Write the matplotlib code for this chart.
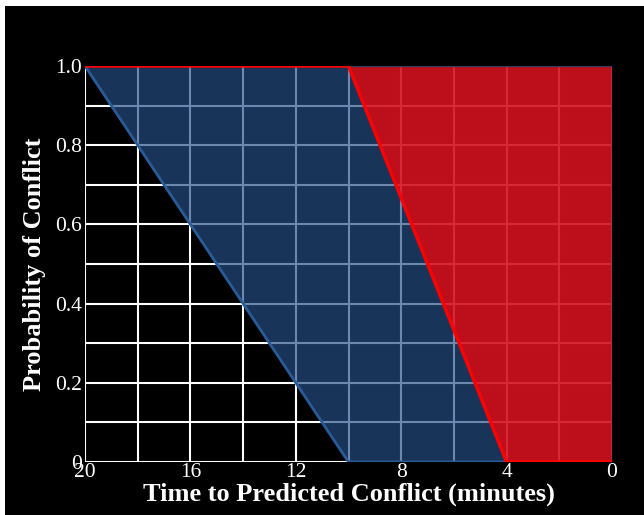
import matplotlib
matplotlib.use("Agg")
import matplotlib.pyplot as plt
from matplotlib.patches import Rectangle

plt.rcParams['font.family'] = ['Liberation Serif', 'DejaVu Serif']

# data
x_ticks = [20, 16, 12, 8, 4, 0]
y_ticks = [0, 0.2, 0.4, 0.6, 0.8, 1.0]
y_tick_labels = ['0', '0.2', '0.4', '0.6', '0.8', '1.0']
x_grid = [20, 18, 16, 14, 12, 10, 8, 6, 4, 2, 0]
y_grid = [0, 0.1, 0.2, 0.3, 0.4, 0.5, 0.6, 0.7, 0.8, 0.9, 1.0]

# blue zone (possible conflict) and red zone (predicted conflict)
blue_x = [20, 10, 4, 10]
blue_y = [1, 1, 0, 0]
red_x = [10, 0, 0, 4]
red_y = [1, 1, 0, 0]
lower_x = [20, 10, 4]
lower_y = [1, 0, 0]
upper_x = [20, 10, 4, 0]
upper_y = [1, 1, 0, 0]

fig = plt.figure(figsize=(6.44, 5.15), dpi=100, facecolor='white')
# black panel with thin white margin on top/left
fig.patches.append(Rectangle((5 / 644, 0), 1, 1 - 6 / 515, transform=fig.transFigure,
                             facecolor='black', edgecolor='none', zorder=-5))

ax = fig.add_axes([85 / 644, 1 - 462 / 515, (612 - 85) / 644, (462 - 66) / 515])
ax.set_facecolor('black')

for gx in x_grid:
    ax.plot([gx, gx], [0, 1], color='white', lw=1.5, zorder=1)
for gy in y_grid:
    ax.plot([20, 0], [gy, gy], color='white', lw=1.5, zorder=1)

ax.fill(blue_x, blue_y, facecolor='#244e86', alpha=0.67, edgecolor='none', zorder=2)
ax.fill(red_x, red_y, facecolor='#d3101f', alpha=0.9, edgecolor='#26344e', lw=1, zorder=2)
ax.plot(lower_x, lower_y, color='#2b5a98', lw=2, zorder=3, solid_joinstyle='miter')
ax.plot(upper_x, upper_y, color='#ff0000', lw=2.5, zorder=4, solid_joinstyle='miter')

ax.set_xlim(20, 0)
ax.set_ylim(0, 1)
ax.set_xticks(x_ticks)
ax.set_xticklabels([str(t) for t in x_ticks])
ax.set_yticks(y_ticks)
ax.set_yticklabels(y_tick_labels)
ax.tick_params(length=0, colors='white', labelsize=15.5, pad=2)
ax.tick_params(axis='x', pad=1)
for s in ax.spines.values():
    s.set_visible(False)

ax.set_xlabel('Time to Predicted Conflict (minutes)', color='white',
              fontsize=19, fontweight='bold', labelpad=0)
ax.set_ylabel('Probability of Conflict', color='white',
              fontsize=19, fontweight='bold', labelpad=7)

fig.savefig('out.png', dpi=100, facecolor=fig.get_facecolor())
